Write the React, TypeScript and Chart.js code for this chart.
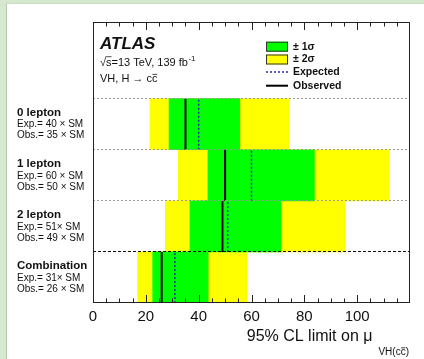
import { useEffect, useRef } from 'react';
import { Chart, registerables } from 'chart.js';

Chart.register(...registerables);

const FONT = '"Liberation Sans", Arial, Helvetica, sans-serif';

// ---- data ----
const categories = ['0 lepton', '1 lepton', '2 lepton', 'Combination'];
const expectedLimits = [40, 60, 51, 31];
const observedLimits = [35, 50, 49, 26];
const band1Low = [28.8, 43.5, 36.7, 22.6];
const band1High = [55.6, 83.8, 71.2, 43.6];
const band2Low = [21.6, 32.3, 27.4, 16.9];
const band2High = [74.1, 112.0, 95.3, 58.3];
const expLabels = ['Exp.= 40 \u00d7 SM', 'Exp.= 60 \u00d7 SM', 'Exp.= 51\u00d7 SM', 'Exp.= 31\u00d7 SM'];
const obsLabels = ['Obs.= 35 \u00d7 SM', 'Obs.= 50 \u00d7 SM', 'Obs.= 49 \u00d7 SM', 'Obs.= 26 \u00d7 SM'];
const xTickValues = [0, 20, 40, 60, 80, 100];
const xMin = 0;
const xMax = 120;
const xMinorStep = 5;
const headerSpan = 1.5;

const nRows = categories.length;
const yMax = nRows + headerSpan;
const rowCenter = (i: number) => nRows - i - 0.5;
const boundaries = categories.map((_, i) => i + 1);

const bandData = (lo: number[], hi: number[]) =>
  categories.map((_, i) => ({ y: rowCenter(i), x: [lo[i], hi[i]] }));
const lineData = (vals: number[]) =>
  vals.flatMap((v, i) => [
    { x: v, y: rowCenter(i) - 0.5 },
    { x: v, y: rowCenter(i) + 0.5 },
    { x: null, y: null },
  ]);

const GREEN = '#00ff00';
const YELLOW = '#ffff00';
const EXP_COLOR = '#2a2aa8';

function overlined(ctx: CanvasRenderingContext2D, text: string, x: number, y: number, size: number) {
  ctx.fillText(text, x, y);
  const w = ctx.measureText(text).width;
  ctx.save();
  ctx.lineWidth = Math.max(0.8, size / 14);
  ctx.strokeStyle = ctx.fillStyle as string;
  ctx.beginPath();
  ctx.moveTo(x + 0.5, y - size * 0.42);
  ctx.lineTo(x + w - 0.3, y - size * 0.42);
  ctx.stroke();
  ctx.restore();
  return w;
}

const decorPlugin = {
  id: 'decor',
  beforeDraw(chart: any) {
    const { ctx, width, height } = chart;
    ctx.save();
    ctx.fillStyle = '#ffffff';
    ctx.fillRect(0, 0, width, height);
    ctx.fillStyle = '#d7e8d1';
    ctx.fillRect(0, 0, width, 3);
    ctx.fillRect(0, 0, 6, height);
    ctx.strokeStyle = '#b3c8ad';
    ctx.lineWidth = 1;
    ctx.beginPath();
    ctx.moveTo(6.5, 3);
    ctx.lineTo(6.5, height);
    ctx.stroke();
    ctx.strokeStyle = '#c9dcc3';
    ctx.beginPath();
    ctx.moveTo(6, 3.5);
    ctx.lineTo(width, 3.5);
    ctx.stroke();
    ctx.restore();
  },
  afterDraw(chart: any) {
    const { ctx, chartArea } = chart;
    const xs = chart.scales.x;
    const ys = chart.scales.y;
    const { left, right, top, bottom } = chartArea;
    ctx.save();

    // frame
    ctx.strokeStyle = '#222';
    ctx.lineWidth = 1;
    ctx.strokeRect(Math.round(left) + 0.5, Math.round(top) + 0.5, Math.round(right - left) - 1, Math.round(bottom - top) - 1);

    // inward ticks (top and bottom)
    ctx.beginPath();
    for (let v = xMin + xMinorStep; v < xMax; v += xMinorStep) {
      const px = Math.round(xs.getPixelForValue(v)) + 0.5;
      const len = v % 20 === 0 ? 8 : 4.5;
      ctx.moveTo(px, bottom);
      ctx.lineTo(px, bottom - len);
      ctx.moveTo(px, top);
      ctx.lineTo(px, top + len);
    }
    ctx.stroke();

    ctx.fillStyle = '#111';
    ctx.textBaseline = 'middle';
    ctx.textAlign = 'left';

    // row labels
    categories.forEach((c, i) => {
      const yc = ys.getPixelForValue(rowCenter(i));
      ctx.font = `bold 11.5px ${FONT}`;
      ctx.fillText(c, 17, yc - 11.5);
      ctx.font = `10px ${FONT}`;
      ctx.fillText(expLabels[i], 17, yc + 0.5);
      ctx.fillText(obsLabels[i], 17, yc + 11.5);
    });

    // ATLAS header
    const hx = left + 7;
    ctx.font = `italic bold 17px ${FONT}`;
    ctx.fillText('ATLAS', hx, top + 22);

    ctx.font = `11px ${FONT}`;
    let x = hx;
    const y2 = top + 41;
    ctx.fillText('\u221a', x, y2);
    x += ctx.measureText('\u221a').width;
    const sw = ctx.measureText('s').width;
    ctx.fillText('s', x, y2);
    ctx.beginPath();
    ctx.lineWidth = 0.8;
    ctx.moveTo(x - 0.5, y2 - 6.3);
    ctx.lineTo(x + sw, y2 - 6.3);
    ctx.stroke();
    x += sw;
    const rest = '=13 TeV, 139 fb';
    ctx.fillText(rest, x, y2);
    x += ctx.measureText(rest).width;
    ctx.font = `8px ${FONT}`;
    ctx.fillText('-1', x + 0.5, y2 - 4.5);

    ctx.font = `11px ${FONT}`;
    const y3 = top + 57;
    const t3 = 'VH, H \u2192 c';
    ctx.fillText(t3, hx, y3);
    overlined(ctx, 'c', hx + ctx.measureText(t3).width, y3, 11);

    // legend
    const lx = left + 173;
    const lt = lx + 27;
    const rows = [top + 24.7, top + 37.5, top + 50, top + 63.7];
    ctx.lineWidth = 1;
    ctx.strokeStyle = '#333';
    ctx.fillStyle = GREEN;
    ctx.fillRect(lx, rows[0] - 5, 22, 10);
    ctx.strokeRect(lx + 0.5, rows[0] - 4.5, 21, 9);
    ctx.fillStyle = YELLOW;
    ctx.fillRect(lx, rows[1] - 5, 22, 10);
    ctx.strokeRect(lx + 0.5, rows[1] - 4.5, 21, 9);
    ctx.strokeStyle = EXP_COLOR;
    ctx.lineWidth = 1.5;
    ctx.setLineDash([2, 2]);
    ctx.beginPath();
    ctx.moveTo(lx, rows[2]);
    ctx.lineTo(lx + 22, rows[2]);
    ctx.stroke();
    ctx.setLineDash([]);
    ctx.strokeStyle = '#000';
    ctx.lineWidth = 2;
    ctx.beginPath();
    ctx.moveTo(lx, rows[3]);
    ctx.lineTo(lx + 22, rows[3]);
    ctx.stroke();

    ctx.fillStyle = '#111';
    ctx.font = `bold 10.5px ${FONT}`;
    ctx.fillText('\u00b1 1\u03c3', lt, rows[0]);
    ctx.fillText('\u00b1 2\u03c3', lt, rows[1]);
    ctx.fillText('Expected', lt, rows[2]);
    ctx.fillText('Observed', lt, rows[3]);

    // x-axis title with subscript
    ctx.font = `10px ${FONT}`;
    const subA = 'VH(c';
    const subB = 'c';
    const subC = ')';
    const wA = ctx.measureText(subA).width;
    const wB = ctx.measureText(subB).width;
    const wC = ctx.measureText(subC).width;
    const subRight = right - 1;
    const subLeft = subRight - (wA + wB + wC);
    const subY = bottom + 49;
    ctx.fillText(subA, subLeft, subY);
    overlined(ctx, subB, subLeft + wA, subY, 10);
    ctx.fillText(subC, subLeft + wA + wB, subY);

    ctx.font = `16px ${FONT}`;
    ctx.textAlign = 'right';
    ctx.fillText('95% CL limit on \u03bc', subLeft - 6, bottom + 34);

    ctx.restore();
  },
};

export default function App() {
  const canvasRef = useRef<HTMLCanvasElement | null>(null);

  useEffect(() => {
    const canvas = canvasRef.current;
    if (!canvas) return;
    const chart = new Chart(canvas, {
      type: 'scatter',
      data: {
        datasets: [
          {
            type: 'bar',
            label: '\u00b1 1\u03c3',
            data: bandData(band1Low, band1High),
            backgroundColor: GREEN,
            indexAxis: 'y',
            grouped: false,
            barPercentage: 1,
            categoryPercentage: 1,
            borderWidth: 0,
            order: 2,
          } as any,
          {
            type: 'bar',
            label: '\u00b1 2\u03c3',
            data: bandData(band2Low, band2High),
            backgroundColor: YELLOW,
            indexAxis: 'y',
            grouped: false,
            barPercentage: 1,
            categoryPercentage: 1,
            borderWidth: 0,
            order: 3,
          } as any,
          {
            type: 'scatter',
            label: 'Expected',
            data: lineData(expectedLimits),
            showLine: true,
            spanGaps: false,
            borderColor: EXP_COLOR,
            borderWidth: 1.5,
            borderDash: [2, 2],
            pointRadius: 0,
            order: 1,
          } as any,
          {
            type: 'scatter',
            label: 'Observed',
            data: lineData(observedLimits),
            showLine: true,
            spanGaps: false,
            borderColor: '#000',
            borderWidth: 2,
            pointRadius: 0,
            order: 0,
          } as any,
        ],
      },
      options: {
        responsive: false,
        animation: false,
        devicePixelRatio: 1,
        layout: { padding: { left: 93, right: 14, top: 22, bottom: 28 } },
        plugins: { legend: { display: false }, tooltip: { enabled: false } },
        scales: {
          x: {
            type: 'linear',
            min: xMin,
            max: xMax,
            offset: false,
            border: { display: false },
            grid: { display: false, drawTicks: false, offset: false },
            afterBuildTicks: (s: any) => {
              s.ticks = xTickValues.map((v) => ({ value: v }));
            },
            ticks: {
              padding: 5,
              color: '#111',
              font: { family: FONT, size: 15 },
              maxRotation: 0,
              autoSkip: false,
            },
          },
          y: {
            type: 'linear',
            min: 0,
            max: yMax,
            offset: false,
            border: {
              display: false,
              dash: (c: any) => (c.tick && c.tick.value === 1 ? [3, 2] : [2, 2]),
            },
            grid: {
              z: 1,
              offset: false,
              drawTicks: false,
              lineWidth: 1,
              color: (c: any) => (c.tick && c.tick.value === 1 ? '#111' : '#9a9a9a'),
            },
            afterBuildTicks: (s: any) => {
              s.ticks = boundaries.map((v) => ({ value: v }));
            },
            ticks: { display: false },
          },
        },
      } as any,
      plugins: [decorPlugin],
    });
    return () => chart.destroy();
  }, []);

  return (
    <div style={{ position: 'absolute', left: 0, top: 0, width: 424, height: 359 }}>
      <canvas ref={canvasRef} width={424} height={359} style={{ display: 'block' }} />
    </div>
  );
}
